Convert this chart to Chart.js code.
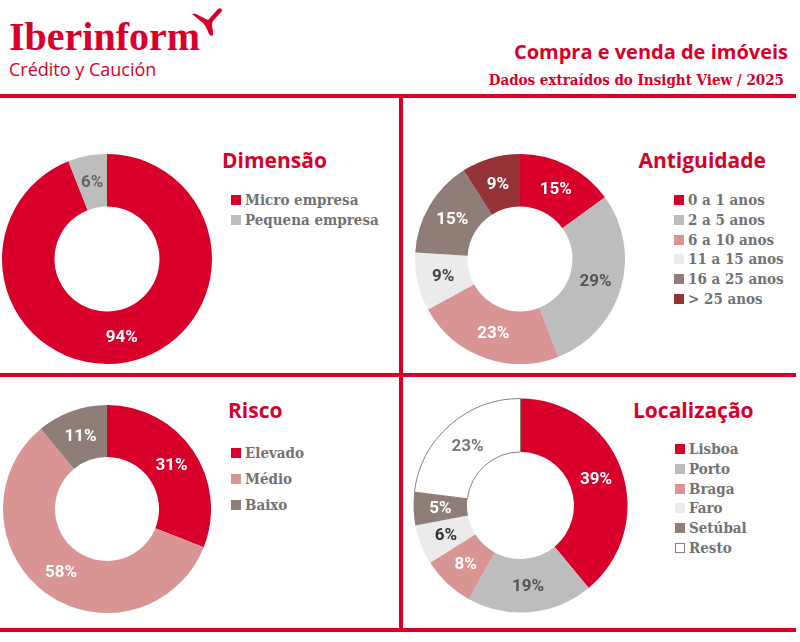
<!DOCTYPE html>
<html><head><meta charset="utf-8">
<script src="https://cdn.jsdelivr.net/npm/chart.js@4.4.1/dist/chart.umd.min.js"></script>
<style>
html,body{margin:0;padding:0}
body{width:800px;height:642px;position:relative;background:#fff;overflow:hidden;font-family:'Open Sans',sans-serif}
.ln{position:absolute;background:#d8002a}
.t{position:absolute;white-space:nowrap;color:#d8002a}
.title{font-family:'Open Sans',sans-serif;font-weight:700;font-size:21px;line-height:24px}
.legend{position:absolute;font-family:'DejaVu Serif',serif;font-stretch:condensed;font-weight:700;font-size:15px;color:#727272}
.legend .it{position:absolute;left:0;white-space:nowrap;height:20px;line-height:20px}
.legend .sq{position:absolute;left:0;top:5px;width:10px;height:10px;box-sizing:border-box}
.legend .tx{position:absolute;left:14px;top:0}
.cw{position:absolute}
</style></head><body>

<div class="t" style="left:9px;top:13px;font-family:'Liberation Serif',serif;font-weight:700;font-size:40px;line-height:48px;letter-spacing:0px">Iberinform</div>
<svg style="position:absolute;left:190px;top:5px" width="34" height="34" viewBox="0 0 34 34">
<path d="M2 9 Q5 8 8 10 L18 15 L28 4 Q32 2 32 6 L23 16 Q21 19 23 26 L23 30 Q21 32 19 29 Q16 21 13 18 Z" fill="#d8002a"/>
</svg>
<div class="t" style="left:9px;top:57px;font-family:'Open Sans',sans-serif;font-size:18px;line-height:24px">Crédito y Caución</div>

<div class="t title" style="right:12px;top:40px;font-size:20px">Compra e venda de imóveis</div>
<div class="t" style="right:16px;top:70px;font-family:'DejaVu Serif',serif;font-stretch:condensed;font-weight:700;font-size:15px;line-height:20px">Dados extraídos do Insight View / 2025</div>

<div class="ln" style="left:0;top:94px;width:796px;height:4px"></div>
<div class="ln" style="left:0;top:373px;width:796px;height:4px"></div>
<div class="ln" style="left:0;top:628px;width:796px;height:4px"></div>
<div class="ln" style="left:399px;top:96px;width:4px;height:534px"></div>

<div class="t title" style="left:222px;top:148px">Dimensão</div>
<div class="t title" style="right:34px;top:148px">Antiguidade</div>
<div class="t title" style="left:228px;top:398px">Risco</div>
<div class="t title" style="left:633px;top:398px">Localização</div>

<div class="cw" style="left:2px;top:154px;width:210px;height:210px"><canvas id="c1"></canvas></div>
<div class="cw" style="left:415px;top:154px;width:210px;height:210px"><canvas id="c2"></canvas></div>
<div class="cw" style="left:3px;top:405px;width:208px;height:208px"><canvas id="c3"></canvas></div>
<div class="cw" style="left:413px;top:398px;width:215px;height:215px"><canvas id="c4"></canvas></div>

<div class="legend" id="l1" style="left:231px;top:190px"></div>
<div class="legend" id="l2" style="left:674px;top:190px"></div>
<div class="legend" id="l3" style="left:231px;top:443px"></div>
<div class="legend" id="l4" style="left:675px;top:439px"></div>

<script>
// ---- data ----
const dimLabels = ['Micro empresa', 'Pequena empresa'];
const dimValues = [94, 6];

const antLabels = ['0 a 1 anos', '2 a 5 anos', '6 a 10 anos', '11 a 15 anos', '16 a 25 anos', '> 25 anos'];
const antValues = [15, 29, 23, 9, 15, 9];

const riscoLabels = ['Elevado', 'Médio', 'Baixo'];
const riscoValues = [31, 58, 11];

const locLabels = ['Lisboa', 'Porto', 'Braga', 'Faro', 'Setúbal', 'Resto'];
const locValues = [39, 19, 8, 6, 5, 23];

// ---- styles ----
const C = {red:'#d8002a', grey:'#bdbdbd', pink:'#d99593', light:'#ebebeb', taupe:'#8f7e77', dark:'#953336', white:'#ffffff'};
const dimColors = [C.red, C.grey];
const dimText = ['#ffffff', '#666666'];
const antColors = [C.red, C.grey, C.pink, C.light, C.taupe, C.dark];
const antText = ['#ffffff', '#555555', '#ffffff', '#444444', '#ffffff', '#ffffff'];
const riscoColors = [C.red, C.pink, C.taupe];
const riscoText = ['#ffffff', '#ffffff', '#ffffff'];
const locColors = [C.red, C.grey, C.pink, C.light, C.taupe, C.white];
const locText = ['#ffffff', '#555555', '#ffffff', '#333333', '#ffffff', '#777777'];
const locBorder = [C.red, C.grey, C.pink, C.light, C.taupe, C.taupe];
const locBorderW = [0, 0, 0, 0, 0, 1];

const pctLabels = {
  id: 'pctLabels',
  afterDatasetsDraw(chart, args, opts) {
    const ctx = chart.ctx;
    const meta = chart.getDatasetMeta(0);
    const data = chart.data.datasets[0].data;
    ctx.save();
    ctx.font = '700 17px Roboto, "Liberation Sans", sans-serif';
    ctx.textAlign = 'center';
    ctx.textBaseline = 'middle';
    meta.data.forEach((arc, i) => {
      const p = arc.tooltipPosition();
      ctx.fillStyle = opts.colors[i];
      ctx.fillText(data[i] + '%', p.x, p.y + 1);
    });
    ctx.restore();
  }
};

function donut(id, labels, values, colors, textColors, borderColors, borderWidths) {
  return new Chart(document.getElementById(id), {
    type: 'doughnut',
    data: {
      labels: labels,
      datasets: [{
        data: values,
        backgroundColor: colors,
        borderColor: borderColors || colors,
        borderWidth: borderWidths || 0,
        hoverOffset: 0
      }]
    },
    options: {
      responsive: true,
      maintainAspectRatio: false,
      animation: false,
      cutout: '50%',
      layout: {padding: 0},
      events: [],
      plugins: {
        legend: {display: false},
        tooltip: {enabled: false},
        pctLabels: {colors: textColors}
      }
    },
    plugins: [pctLabels]
  });
}

function legend(id, labels, colors, step, borders) {
  const el = document.getElementById(id);
  labels.forEach((lab, i) => {
    const it = document.createElement('div');
    it.className = 'it';
    it.style.top = (i * step) + 'px';
    const sq = document.createElement('span');
    sq.className = 'sq';
    sq.style.background = colors[i];
    if (borders && borders[i]) sq.style.border = '1px solid ' + borders[i];
    const tx = document.createElement('span');
    tx.className = 'tx';
    tx.textContent = lab;
    it.appendChild(sq); it.appendChild(tx);
    el.appendChild(it);
  });
}

function build() {
  donut('c1', dimLabels, dimValues, dimColors, dimText);
  donut('c2', antLabels, antValues, antColors, antText);
  donut('c3', riscoLabels, riscoValues, riscoColors, riscoText);
  donut('c4', locLabels, locValues, locColors, locText, locBorder, locBorderW);
  legend('l1', dimLabels, dimColors, 19.5);
  legend('l2', antLabels, antColors, 19.8);
  legend('l3', riscoLabels, riscoColors, 26);
  legend('l4', locLabels, locColors, 19.8, [null, null, null, null, null, C.taupe]);
}
if (document.fonts && document.fonts.load) {
  Promise.all([document.fonts.load('700 17px Roboto'), document.fonts.load('700 21px "Open Sans"')]).then(build, build);
} else { build(); }
</script>
</body></html>
